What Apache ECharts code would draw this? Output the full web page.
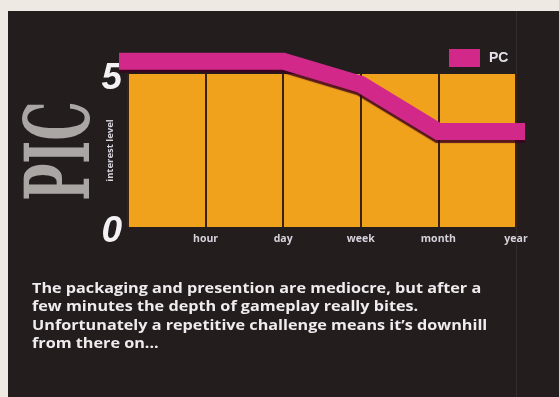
<!DOCTYPE html>
<html>
<head>
<meta charset="utf-8">
<style>
  html, body { margin: 0; padding: 0; background: #eee9e3; }
  #chart { width: 559px; height: 397px; }
</style>
<script src="https://cdn.jsdelivr.net/npm/echarts@6/dist/echarts.min.js"></script>
</head>
<body>
<div id="chart"></div>
<script>
// Time-line positions: 0 = start, then one step per period
const periodLabels = ['', 'hour', 'day', 'week', 'month', 'year'];

// Interest level of the PC version over time (line runs a little past both ends)
const pcTime = [-0.19, 2, 3, 4, 5.35];
const pcInterest = [5.42, 5.42, 4.66, 3.12, 3.12];

// Only the ends of the interest scale are labelled
const interestTicks = [0, 5];

const summaryLines = [
  'The packaging and presention are mediocre, but after a',
  'few minutes the depth of gameplay really bites.',
  'Unfortunately a repetitive challenge means it\u2019s downhill',
  'from there on...'
];

const chart = echarts.init(document.getElementById('chart'), null, { renderer: 'canvas' });

const option = {
  backgroundColor: '#eee9e3',
  animation: false,
  graphic: [
    {
      type: 'rect',
      z: -10,
      shape: { x: 8, y: 11, width: 551, height: 386 },
      style: { fill: '#231e1d' },
      silent: true
    },
    {
      type: 'line',
      z: -9,
      shape: { x1: 516.5, y1: 11, x2: 516.5, y2: 397 },
      style: { stroke: 'rgba(255,255,255,0.07)', lineWidth: 1 },
      silent: true
    },
    {
      type: 'text',
      z: 10,
      x: 66,
      y: 151,
      rotation: Math.PI / 2,
      scaleX: 0.52,
      scaleY: 0.95,
      style: {
        text: 'PIC',
        font: 'bold 95px "DejaVu Serif"',
        fill: '#a9a6a3',
        align: 'center',
        verticalAlign: 'middle'
      },
      silent: true
    },
    {
      type: 'text',
      z: 10,
      x: 32,
      y: 279,
      scaleX: 1.08,
      style: {
        text: summaryLines.join('\n'),
        font: 'bold 15px "Open Sans"',
        lineHeight: 18.5,
        fill: '#efebef',
        align: 'left',
        verticalAlign: 'top'
      },
      silent: true
    }
  ],
  legend: {
    data: ['PC'],
    left: 444,
    top: 44,
    icon: 'rect',
    itemWidth: 31,
    itemHeight: 18,
    itemStyle: { color: '#d2288a' },
    textStyle: {
      color: '#e4e0ea',
      fontSize: 14,
      fontWeight: 'bold',
      fontFamily: 'Liberation Sans',
      padding: [0, 0, 0, 4]
    }
  },
  grid: {
    left: 128,
    right: 43,
    top: 74,
    bottom: 170,
    show: true,
    backgroundColor: '#f1a21c',
    borderWidth: 0
  },
  xAxis: {
    type: 'value',
    min: 0,
    max: 5,
    interval: 1,
    axisLine: { show: false },
    axisTick: { show: false },
    splitLine: { show: true, lineStyle: { color: '#3b2210', width: 2 } },
    axisLabel: {
      margin: 7,
      color: '#d6d2dc',
      fontSize: 10.5,
      fontWeight: 'bold',
      fontFamily: 'Open Sans',
      formatter: v => periodLabels[Math.round(v)] || ''
    }
  },
  yAxis: {
    type: 'value',
    min: interestTicks[0],
    max: interestTicks[interestTicks.length - 1],
    interval: 5,
    name: 'interest level',
    nameLocation: 'middle',
    nameRotate: 90,
    nameGap: 13,
    nameMoveOverlap: false,
    nameTextStyle: {
      color: '#d6d2dc',
      fontSize: 9.5,
      fontWeight: 'bold',
      fontFamily: 'Open Sans'
    },
    axisLine: { show: true, lineStyle: { color: '#3b2210', width: 2 } },
    axisTick: { show: false },
    splitLine: { show: false },
    axisLabel: {
      margin: 6,
      verticalAlign: 'top',
      lineHeight: 10,
      color: '#f4f1f4',
      fontSize: 37,
      fontStyle: 'italic',
      fontWeight: 900,
      fontFamily: 'Liberation Sans',
      formatter: v => String(v)
    }
  },
  series: [
    {
      name: 'PC',
      type: 'line',
      data: pcTime.map((t, i) => [t, pcInterest[i]]),
      clip: false,
      symbol: 'none',
      itemStyle: { color: '#d2288a' },
      lineStyle: {
        color: '#d2288a',
        width: 17,
        cap: 'butt',
        join: 'miter',
        shadowColor: 'rgba(60,0,30,0.85)',
        shadowOffsetY: 3,
        shadowBlur: 1
      },
      z: 5
    }
  ]
};

chart.setOption(option);
</script>
</body>
</html>
